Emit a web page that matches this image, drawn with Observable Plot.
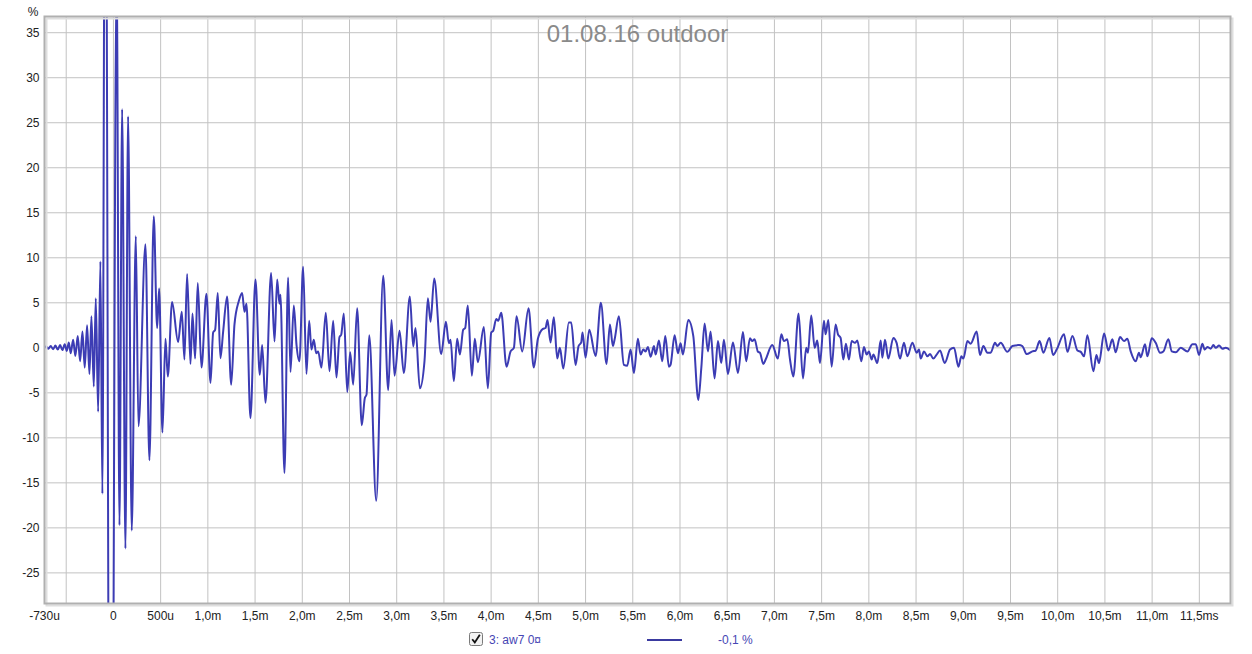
<!DOCTYPE html>
<html>
<head>
<meta charset="utf-8">
<script src="https://cdn.jsdelivr.net/npm/d3@7"></script>
<script src="https://cdn.jsdelivr.net/npm/@observablehq/plot@0.6"></script>
<style>
  body { margin: 0; background: #fff; font-family: "Liberation Sans", Arial, sans-serif; }
  #wrap { position: relative; width: 1252px; height: 654px; overflow: hidden; }
  .lg { position: absolute; font-size: 12px; line-height: 14px; white-space: nowrap; }
</style>
</head>
<body>
<div id="wrap">
  <div id="chart"></div>
  <svg class="lg" id="cb" style="left:469px;top:632px" width="14" height="14" viewBox="0 0 14 14">
    <rect x="0.5" y="0.5" width="13" height="13" rx="2" fill="#f2f2f2" stroke="#7a7a7a"/>
    <path d="M3.2 7.2 L5.8 10.4 L10.8 2.8" fill="none" stroke="#111" stroke-width="1.8"/>
  </svg>
  <span class="lg" id="lgName" style="left:489px;top:633px;color:#4646b4"></span>
  <div class="lg" id="lgLine" style="left:647px;top:639px;width:35px;height:2px;background:#3a3aa0"></div>
  <span class="lg" id="lgValue" style="left:718px;top:633px;color:#4646b4"></span>
</div>
<script>
// ---- data ----
const timeMs = [
  -0.73,-0.713,-0.689,-0.664,-0.639,-0.614,-0.590,-0.565,-0.540,-0.516,-0.494,-0.473,-0.452,-0.427,-0.403,-0.378,-0.353,-0.328,-0.304,-0.279,-0.254,-0.233,-0.208,-0.187,-0.162,-0.138,-0.117,
  -0.087,-0.029,0.034,0.064,0.092,0.127,0.155,0.194,0.237,0.265,0.339,0.381,0.427,0.463,0.484,0.519,0.551,0.576,0.621,0.685,0.724,0.752,0.780,0.816,0.837,0.865,0.893,0.932,0.985,1.028,1.056,1.077,1.105,
  1.133,1.162,1.204,1.247,1.282,1.328,1.363,1.388,1.409,1.451,1.504,1.550,1.575,1.610,1.670,1.706,1.734,1.758,1.769,1.811,1.850,1.875,1.910,1.939,1.970,2.009,2.044,2.073,2.097,2.122,2.147,2.168,2.203,2.249,2.288,2.327,2.362,2.394,2.412,2.440,2.476,2.507,2.539,2.581,2.630,2.662,2.680,2.709,2.783,2.857,2.910,2.945,2.977,3.030,3.075,3.139,3.175,3.199,3.245,3.294,3.330,3.358,3.397,3.471,3.521,3.552,3.570,
  3.605,3.640,3.669,3.704,3.725,3.753,3.796,3.827,3.859,3.923,3.965,4.001,4.022,4.054,4.075,4.107,4.163,4.206,4.241,4.269,4.329,4.396,4.452,4.495,4.548,4.576,4.597,4.629,4.664,4.700,4.728,4.764,4.823,4.848,4.894,4.926,4.954,4.968,5.000,5.039,5.106,5.162,5.222,5.258,5.289,5.307,5.353,5.406,5.441,5.477,5.512,5.554,5.583,5.611,5.636,5.660,5.689,5.724,5.742,5.777,5.812,5.844,5.883,5.900,5.943,5.978,6.006,6.031,6.088,6.141,6.194,6.226,6.261,6.296,6.324,6.366,6.402,6.437,6.465,6.508,6.561,6.614,6.667,6.701,
  6.741,6.766,6.790,6.826,6.847,6.882,6.907,6.977,7.037,7.073,7.101,7.136,7.165,7.200,7.256,7.302,7.337,7.355,7.390,7.426,7.454,7.482,7.525,7.542,7.571,7.606,7.648,7.673,7.701,7.730,7.757,7.789,7.818,7.853,7.878,7.920,7.948,7.977,8.001,8.030,8.048,8.090,8.125,8.143,8.171,8.206,8.259,8.294,8.330,8.372,8.408,8.461,8.506,8.531,8.549,8.584,8.620,8.648,8.683,8.718,8.754,8.803,8.860,8.902,8.949,8.980,9.001,9.044,9.078,9.142,9.177,9.213,9.255,9.290,9.336,9.361,9.396,9.467,9.520,9.590,9.626,9.672,9.732,9.767,9.809,9.848,9.912,9.951,9.989,10.067,10.103,10.156,10.209,10.244,10.279,10.314,10.378,10.410,10.437,10.491,10.537,10.579,10.614,10.660,10.702,10.738,10.773,10.826,10.861,10.879,10.925,10.950,10.996,11.038,11.084,11.119,11.172,11.208,11.250,11.303,11.374,11.427,11.462,11.497,11.532,11.557,11.585,11.620,11.649,11.674,11.709,11.744,11.780,11.825
];
const percent = [
  0,0.15,-0.1,0.2,-0.15,0.25,-0.2,0.3,-0.25,0.4,-0.35,0.6,-0.6,0.9,-0.9,1.3,-1.5,1.8,-2.2,2.5,-2.9,3.5,-4.3,5.5,-7.1,9.6,-16.2,
  70,-95,42,-19.7,26.5,-22.3,25.7,-20.3,12.4,-8.7,11.5,-12.5,14.6,2.2,6.6,-9.4,1.0,-3.2,5.1,0.65,4.0,-1.3,8.2,-1.8,3.8,-1.2,7.2,-2.2,6.0,-3.9,1.7,2.0,6.1,
  -1.15,1.8,5.7,-4.1,2.6,5.2,6.1,4.0,4.9,-7.8,7.6,-3.0,0.3,-6.1,8.3,0.7,7.6,4.9,5.9,-13.9,7.8,-2.7,4.7,0.3,-1.5,9.0,-2.9,3.0,-0.2,0.9,-0.6,-0.4,-2.2,3.9,-2.6,3.0,-3.3,1.2,1.45,3.8,-4.9,-0.5,-4.1,4.4,-8.6,-5.6,-5.2,1.4,-17.0,8.0,-4.7,3.1,-3.1,1.9,-2.8,5.7,0.15,2.2,-4.5,-1.5,5.5,2.9,7.7,-0.7,2.9,0.5,0.9,
  -3.7,1.0,-0.75,2.0,2.2,4.7,-3.1,1.0,-1.6,2.3,-4.5,1.7,1.9,3.2,3.0,3.9,-2.1,-0.4,0.0,3.5,-0.4,4.4,-2.2,1.0,2.1,2.2,3.1,0.6,3.4,-1.2,0.0,-2.3,2.8,2.8,-1.9,0.2,0.6,1.7,-1.1,2.0,-0.9,5.0,-1.8,2.6,0.2,0.9,3.5,-1.9,-2.0,-0.2,-2.8,1.0,-0.75,-0.2,-0.4,0.1,-1.0,0.2,-0.75,0.8,-1.5,1.3,-2.1,-1.9,1.4,-0.6,0.5,-0.75,3.1,1.3,-5.8,-2.2,2.7,-0.4,1.8,-3.4,0.75,-1.7,0.9,-2.9,0.6,-2.8,1.75,-1.5,
  1.05,0.75,0.95,-0.45,-0.55,-1.8,-1.3,0.3,-1.2,1.5,0.75,0.95,-1.3,-3.2,3.8,-3.4,0.0,-0.55,3.6,0.0,0.8,-1.7,3.0,1.5,3.1,-2.1,2.6,1.5,1.1,-1.3,0.45,-1.3,0.75,0.55,0.8,-1.5,0.1,-0.75,-0.4,-1.3,-0.75,-1.7,0.8,-1.1,0.9,-1.2,1.1,0.55,-1.2,0.55,-0.95,0.55,-0.55,-0.2,-1.2,-0.4,-0.95,-0.7,-1.2,-0.75,-0.3,-1.7,-0.2,0.0,-2.1,-0.95,-1.2,0.75,0.45,1.8,-0.8,0.2,-0.55,-0.55,0.55,0.2,0.55,-0.45,0.2,0.3,0.2,-0.7,-0.4,-0.3,0.75,-0.55,1.1,-0.8,-0.2,1.5,-0.45,1.3,-0.3,-0.45,-0.95,1.4,-2.6,-0.8,-1.7,1.6,-0.3,0.95,-0.5,1.2,0.75,1.0,-0.4,-1.5,-0.55,-1.05,0.4,-0.95,1.05,0.55,-0.55,-0.4,0.95,-0.4,-0.5,0.0,-0.4,0.4,0.4,-0.8,0.45,-0.2,0.1,-0.1,0.3,0.0,0.25,-0.1,0.0,-0.25
];
const xGridTicks = [-0.5,0,0.5,1,1.5,2,2.5,3,3.5,4,4.5,5,5.5,6,6.5,7,7.5,8,8.5,9,9.5,10,10.5,11,11.5];
const xTickValues = [-0.73,0,0.5,1,1.5,2,2.5,3,3.5,4,4.5,5,5.5,6,6.5,7,7.5,8,8.5,9,9.5,10,10.5,11,11.5];
const xTickLabels = ["-730u","0","500u","1,0m","1,5m","2,0m","2,5m","3,0m","3,5m","4,0m","4,5m","5,0m","5,5m","6,0m","6,5m","7,0m","7,5m","8,0m","8,5m","9,0m","9,5m","10,0m","10,5m","11,0m","11,5ms"];
const yTicks = [-25,-20,-15,-10,-5,0,5,10,15,20,25,30,35];
const yUnit = "%";
const chartTitle = "01.08.16 outdoor";
const legendName = "3: aw7 0\u00a4";
const legendValue = "-0,1 %";

const data = timeMs.map((t, i) => ({t, v: percent[i]}));
const xLabelMap = new Map(xTickValues.map((d, i) => [d, xTickLabels[i]]));

const chart = Plot.plot({
  width: 1252,
  height: 622,
  marginLeft: 44,
  marginRight: 22,
  marginTop: 16,
  marginBottom: 19,
  style: {fontFamily: '"Liberation Sans", Arial, sans-serif', fontSize: "12px", color: "#222", background: "#fff"},
  x: {domain: [-0.73, 11.83], label: null},
  y: {domain: [-28.4, 36.8], label: null},
  marks: [
    Plot.gridX(xGridTicks, {stroke: "#c2c2c2", strokeOpacity: 1}),
    Plot.gridY(yTicks, {stroke: "#c2c2c2", strokeOpacity: 1}),
    Plot.axisX(xTickValues, {tickSize: 0, tickPadding: 8, tickFormat: d => xLabelMap.get(d), fill: "#222", label: null}),
    Plot.axisY(yTicks, {tickSize: 0, tickPadding: 5, tickFormat: d => String(d), fill: "#222", label: null}),
    Plot.text([yUnit], {text: d => d, frameAnchor: "top-left", dx: -6, dy: -9, textAnchor: "end", fontSize: 12, fill: "#222"}),
    Plot.line(data, {x: "t", y: "v", stroke: "#3c3cb4", strokeWidth: 2, curve: "monotone-x", clip: true}),
    Plot.text([chartTitle], {text: d => d, frameAnchor: "top", lineAnchor: "middle", dy: 18, fontSize: 24, fill: "#8a8a8a"}),
    Plot.frame({stroke: "#dedede", strokeWidth: 2, dx: 2, dy: 2}),
    Plot.frame({stroke: "#b0b0b0", strokeWidth: 2})
  ]
});
document.getElementById("chart").appendChild(chart);
document.getElementById("lgName").textContent = legendName;
document.getElementById("lgValue").textContent = legendValue;
</script>
</body>
</html>
